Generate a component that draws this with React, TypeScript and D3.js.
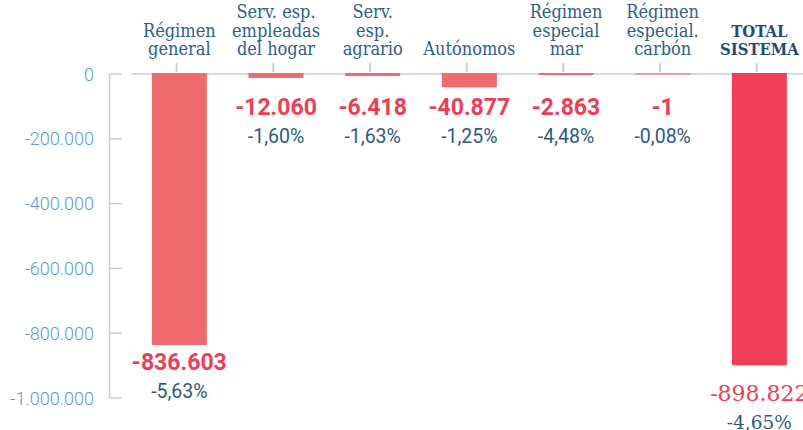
import React from "react";
import * as d3 from "d3";

const categories: string[][] = [
  ["Régimen", "general"],
  ["Serv. esp.", "empleadas", "del hogar"],
  ["Serv.", "esp.", "agrario"],
  ["Autónomos"],
  ["Régimen", "especial", "mar"],
  ["Régimen", "especial.", "carbón"],
  ["TOTAL", "SISTEMA"],
];
const values: number[] = [-836603, -12060, -6418, -40877, -2863, -1, -898822];
const percents: number[] = [-5.63, -1.6, -1.63, -1.25, -4.48, -0.08, -4.65];
const yTicks: number[] = [0, -200000, -400000, -600000, -800000, -1000000];
const totalIndex = 6;

const W = 803;
const H = 430;

const locale = d3.formatLocale({
  decimal: ",",
  thousands: ".",
  grouping: [3],
  currency: ["", "€"],
  minus: "-",
});
const fmtInt = locale.format(",");
const fmtPct = locale.format(",.2f");

export default function App() {
  const y = d3.scaleLinear().domain([-1000000, 0]).range([398, 74]);
  const x = d3
    .scaleBand<number>()
    .domain(values.map((_, i) => i))
    .range([131, 131 + 7 * 96.67])
    .padding(0);
  const barW = 55;
  const center = (i: number) => (x(i) as number) + x.bandwidth() / 2;
  const y0 = y(0);
  const axisX = 109.5;
  const serif = "'DejaVu Serif', serif";
  const serifCond = "'DejaVu Serif Condensed', 'DejaVu Serif', serif";
  const sans = "Roboto, 'Liberation Sans', sans-serif";

  return (
    <svg
      width={W}
      height={H}
      style={{ position: "absolute", left: 0, top: 0, background: "#fff" }}
    >
      {/* baseline */}
      <line x1={131.5} x2={W} y1={y0} y2={y0} stroke="#d5d9e8" strokeWidth={2} />
      {/* y axis */}
      <line x1={axisX} x2={axisX} y1={y0} y2={y(-1000000)} stroke="#c9cee0" strokeWidth={1.5} />
      {yTicks.map((t) => (
        <g key={t}>
          <line x1={axisX} x2={122} y1={y(t)} y2={y(t)} stroke="#c9cee0" strokeWidth={1.5} />
          <text
            x={94}
            y={y(t)}
            textAnchor="end"
            dominantBaseline="central"
            fontFamily={sans}
            fontWeight={300}
            fontSize={18}
            fill="#5d9ad5"
          >
            {fmtInt(t)}
          </text>
        </g>
      ))}
      {/* category ticks & labels */}
      {categories.map((lines, i) => {
        const cx = center(i);
        const isTotal = i === totalIndex;
        return (
          <g key={"c" + i}>
            <line x1={cx - 2.7} x2={cx - 2.7} y1={63} y2={72} stroke="#c9cee0" strokeWidth={2} />
            {lines.map((ln, j) => (
              <text
                key={j}
                x={cx}
                y={55 - (lines.length - 1 - j) * 18.5}
                textAnchor="middle"
                fontFamily={serifCond}
                fontStretch="condensed"
                fontSize={isTotal ? 16.5 : 18}
                fontWeight={isTotal ? "bold" : "normal"}
                fill={isTotal ? "#1f4c78" : "#2d5e8e"}
              >
                {ln}
              </text>
            ))}
          </g>
        );
      })}
      {/* bars */}
      {values.map((v, i) => {
        const cx = center(i);
        const h = y(v) - y0;
        return (
          <rect
            key={"b" + i}
            x={cx - barW / 2}
            y={y0 - 1}
            width={barW}
            height={Math.max(h + 1, 2)}
            fill={i === totalIndex ? "#ef3e56" : "#f06b6e"}
            fillOpacity={Math.min(1, 0.55 + h)}
          />
        );
      })}
      {/* value labels */}
      {values.map((v, i) => {
        const cx = center(i);
        const isTotal = i === totalIndex;
        const base = isTotal ? y(v) + 36 : Math.max(y(v) + 25, y0 + 41);
        return (
          <g key={"l" + i}>
            <text
              x={cx}
              y={base}
              textAnchor="middle"
              fontFamily={isTotal ? serif : sans}
              fontWeight={isTotal ? "normal" : "bold"}
              fontSize={isTotal ? 22 : 23}
              fill="#ee3e56"
            >
              {fmtInt(v)}
            </text>
            <text
              x={cx}
              y={base + 28}
              textAnchor="middle"
              fontFamily={isTotal ? serif : sans}
              fontSize={isTotal ? 18.5 : 19.5}
              fill="#2c5a87"
            >
              {fmtPct(percents[i]) + "%"}
            </text>
          </g>
        );
      })}
    </svg>
  );
}
